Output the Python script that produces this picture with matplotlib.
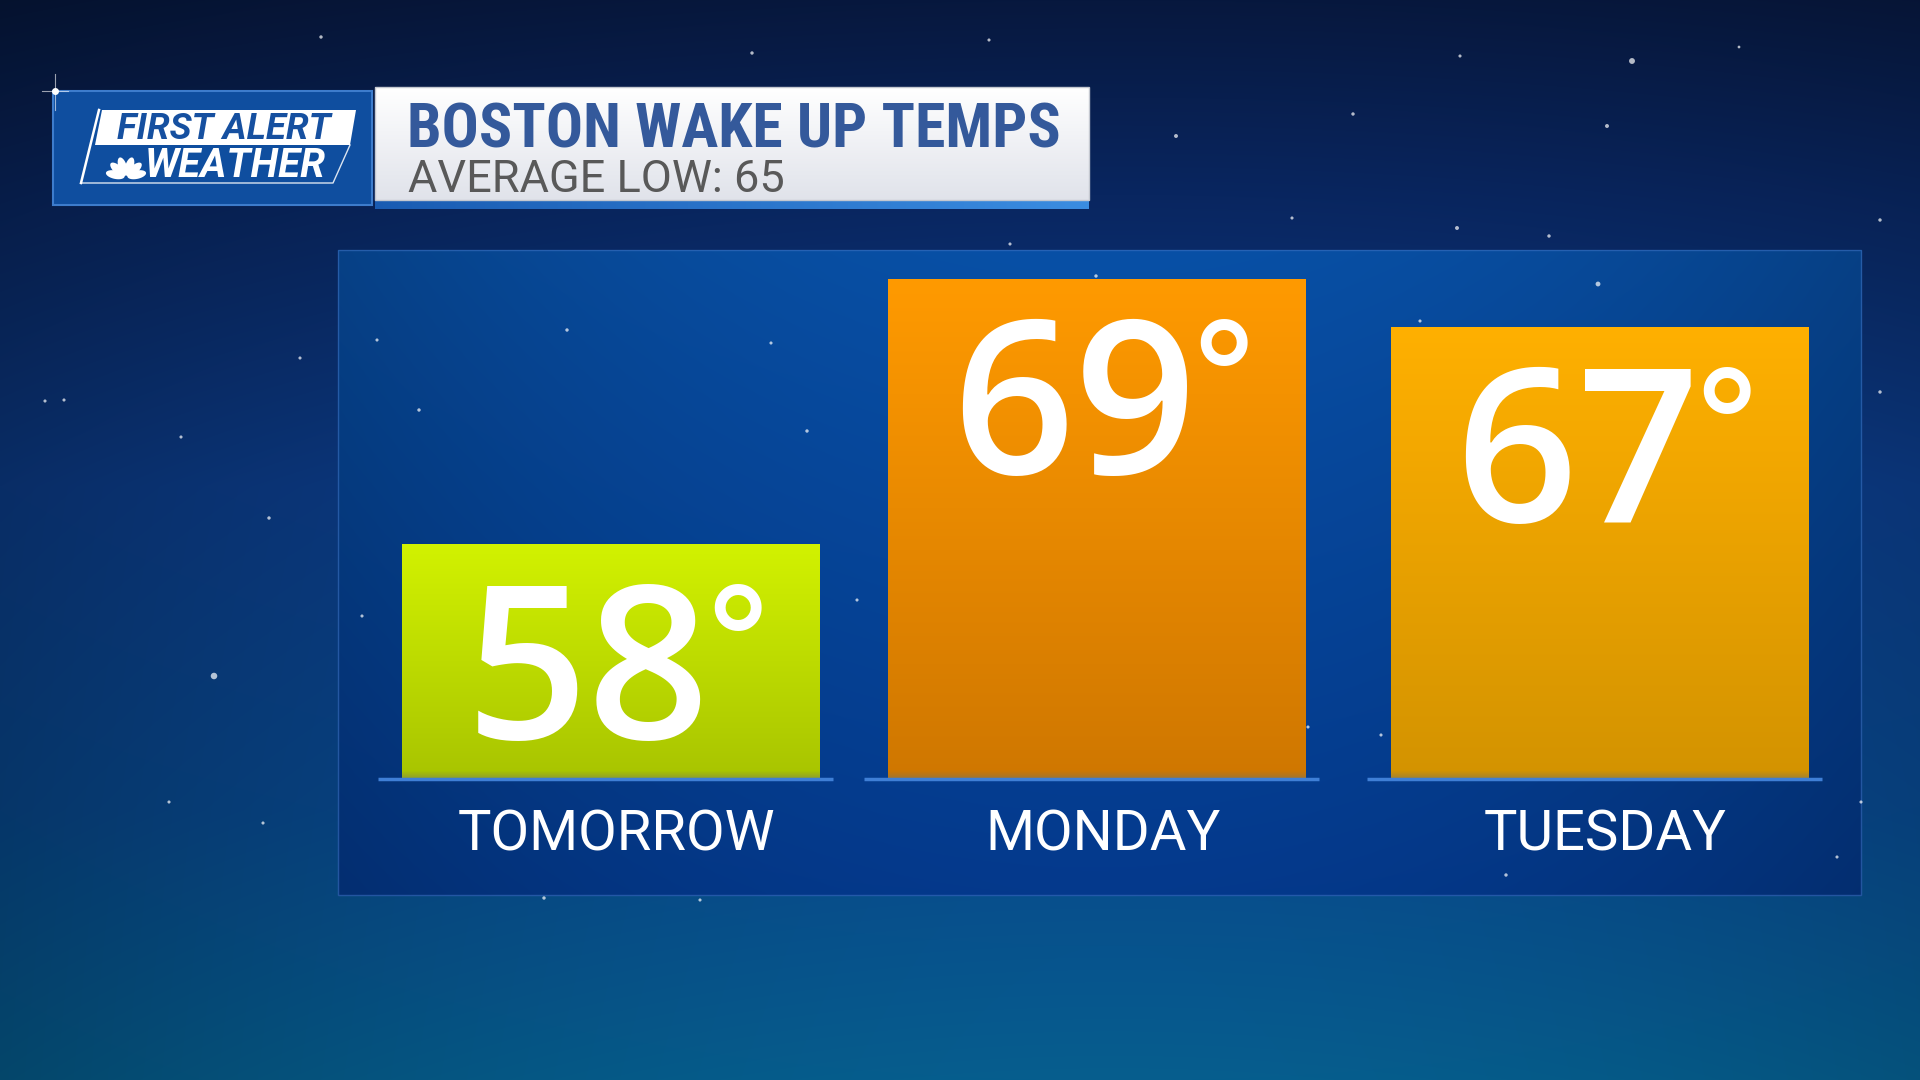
import numpy as np
import matplotlib
matplotlib.use("Agg")
import matplotlib.pyplot as plt
from matplotlib import font_manager as fm
from matplotlib.patches import Rectangle, Polygon

# ---------------- data ----------------
days = ["TOMORROW", "MONDAY", "TUESDAY"]
temps = [58, 69, 67]
title = "BOSTON WAKE UP TEMPS"
subtitle = "AVERAGE LOW: 65"
logo_top = "FIRST ALERT"
logo_bottom = "WEATHER"

# ---------------- styles ----------------
bar_top_colors = ["#d2f200", "#ff9a00", "#ffb000"]
bar_bottom_colors = ["#a8c400", "#cf7700", "#d39300"]

names = {f.name for f in fm.fontManager.ttflist}
def pick(*cands):
    for c in cands:
        if c in names:
            return c
    return "DejaVu Sans"
COND = pick("Roboto Condensed", "Liberation Sans Narrow", "DejaVu Sans")
REG = pick("Roboto", "Liberation Sans", "DejaVu Sans")
NUM = pick("Open Sans", "Lato", "DejaVu Sans")

W, H = 1920, 1080
fig = plt.figure(figsize=(19.2, 10.8), dpi=100)

# ---------------- background ----------------
bg = fig.add_axes([0, 0, 1, 1], zorder=0)
bg.set_xlim(0, W)
bg.set_ylim(H, 0)
bg.axis("off")

yy, xx = np.mgrid[0:H, 0:W].astype(float)
ty = yy / H
tx = xx / W
stops_t = np.array([0.0, 0.18, 0.45, 0.75, 1.0])
stops_c = np.array([[7, 24, 62], [9, 38, 96], [12, 60, 136], [8, 72, 140], [6, 94, 142]], float)
img = np.zeros((H, W, 3))
for k in range(3):
    img[..., k] = np.interp(ty, stops_t, stops_c[:, k])
vign = 1 - 0.25 * (np.abs(tx - 0.58) / 0.58) ** 2
img *= vign[..., None]
# panel tint
px0, px1, py0, py1 = 338, 1861, 250, 895
inside = (xx >= px0) & (xx <= px1) & (yy >= py0) & (yy <= py1)
pt = (yy - py0) / (py1 - py0)
top_c = np.array([8, 80, 166], float)
bot_c = np.array([4, 57, 140], float)
pc = top_c[None, None, :] * (1 - pt[..., None]) + bot_c[None, None, :] * pt[..., None]
hx = 1 - 0.22 * (np.abs(tx - 0.57) / 0.42) ** 2
pc *= np.clip(hx, 0.7, 1)[..., None]
img = np.where(inside[..., None], pc, img)
bg.imshow(np.clip(img / 255, 0, 1), extent=(0, W, H, 0), interpolation="bilinear", aspect="auto", zorder=0)
bg.add_patch(Rectangle((px0, py0), px1 - px0, py1 - py0, fill=False, edgecolor="#3a70c0",
                       alpha=0.6, lw=1.0, zorder=1))

# stars (decoration)
star_x = [321, 752, 989, 1460, 1739, 1632, 1607, 1353, 1176, 1549, 1457, 1420, 1880, 1880, 1861,
          1598, 1096, 419, 807, 1292, 181, 45, 64, 269, 214, 169, 263, 377, 567, 771, 300, 1837,
          1506, 544, 362, 857, 1308, 1381, 1010, 700]
star_y = [37, 53, 40, 56, 47, 61, 126, 114, 136, 236, 228, 321, 220, 392, 802, 284, 276, 410, 431,
          218, 437, 401, 400, 518, 676, 802, 823, 340, 330, 343, 358, 857, 875, 898, 616, 600, 727,
          735, 244, 900]
star_s = [6, 6, 5, 5, 4, 18, 8, 6, 8, 6, 8, 5, 6, 6, 5, 12, 6, 6, 6, 5, 5, 5, 5, 6, 22, 5, 5, 5,
          6, 5, 5, 5, 6, 6, 5, 5, 5, 5, 5, 5]
bg.scatter(star_x, star_y, s=star_s, c="white", alpha=0.7, edgecolors="none", zorder=1)

# ---------------- logo ----------------
bg.add_patch(Rectangle((53, 91), 319, 114, facecolor="#0f4e9f", edgecolor="#3d7ccc", lw=1.5, zorder=3))
bg.add_patch(Polygon([(102, 110), (356, 110), (350, 145), (95, 145)], closed=True,
                     facecolor="white", edgecolor="none", zorder=4))
bg.plot([99, 81], [110, 183], color="white", lw=1.8, zorder=4)
bg.plot([82, 333, 350], [183, 183, 145], color="white", lw=1.0, alpha=0.85, zorder=4)
bg.text(224, 139, logo_top, ha="center", va="baseline", fontsize=26.5, fontweight="bold",
        fontstyle="italic", family=REG, color="#1650a0", zorder=5)
bg.text(235, 177, logo_bottom, ha="center", va="baseline", fontsize=29, fontweight="bold",
        fontstyle="italic", family=REG, color="white", zorder=5)
# peacock
bx, by = 126, 177
for ang in np.deg2rad([12, 42, 72, 108, 138, 168]):
    cxp = bx + 11 * np.cos(ang)
    cyp = by - 11 * np.sin(ang)
    tt = np.linspace(0, 2 * np.pi, 40)
    ex = 9.5 * np.cos(tt)
    ey = 4.2 * np.sin(tt)
    px = cxp + ex * np.cos(ang) - ey * np.sin(ang)
    py = cyp - (ex * np.sin(ang) + ey * np.cos(ang))
    bg.fill(px, py, color="white", zorder=5, lw=0)
# sparkle
bg.plot([42, 68], [91, 91], color="white", lw=0.8, alpha=0.6, zorder=6)
bg.plot([55, 55], [74, 110], color="white", lw=0.8, alpha=0.6, zorder=6)
bg.scatter([55], [91], s=16, c="white", zorder=6)

# ---------------- title box ----------------
tg = np.linspace(0, 1, 64)[:, None]
tcol = (1 - tg) * np.array([1.0, 1.0, 1.0]) + tg * np.array([0.88, 0.89, 0.92])
bg.imshow(np.repeat(tcol[:, None, :], 2, axis=1), extent=(375, 1089, 200, 87),
          aspect="auto", interpolation="bilinear", zorder=3)
bg.add_patch(Rectangle((375, 87), 714, 113, fill=False, edgecolor="#c4c8d0", lw=1, zorder=4))
ug = np.linspace(0, 1, 64)[None, :]
ucol = (1 - ug)[..., None] * np.array([0.10, 0.36, 0.70]) + ug[..., None] * np.array([0.23, 0.55, 0.88])
bg.imshow(ucol, extent=(375, 1089, 209, 201), aspect="auto", interpolation="bilinear", zorder=3)
bg.text(407, 148, title, ha="left", va="baseline", fontsize=44.5, fontweight="bold",
        family=COND, color="#34599b", zorder=5)
bg.text(408, 192, subtitle, ha="left", va="baseline", fontsize=32.5,
        family=REG, color="#595959", zorder=5)
bg.set_xlim(0, W)
bg.set_ylim(H, 0)

# ---------------- bars ----------------
ax = fig.add_axes([363 / W, (H - 779) / H, (1847 - 363) / W, 529 / H], zorder=2)
ax.patch.set_alpha(0)
ymin, ymax = 48.23, 70.21
ax.set_xlim(-0.5, 2.5)
ax.set_ylim(ymin, ymax)
xs = np.array([0.0, 0.983, 2.0])
bars = ax.bar(xs, np.array(temps) - ymin, bottom=ymin, width=0.843,
              color=bar_top_colors, edgecolor="none", zorder=2)
px_per_unit = 529 / (ymax - ymin)
for bar, c0, c1 in zip(bars, bar_top_colors, bar_bottom_colors):
    x0, w, y0, h = bar.get_x(), bar.get_width(), bar.get_y(), bar.get_height()
    n = 400
    t = np.linspace(0, 1, n)[:, None]
    a0 = np.array(matplotlib.colors.to_rgb(c0))
    a1 = np.array(matplotlib.colors.to_rgb(c1))
    grad = (1 - t) * a0 + t * a1
    band = 8 / (h * px_per_unit)
    s = np.clip((t - (1 - band)) / band, 0, 1)
    shadow = np.array([0.45, 0.45, 0.38])
    grad = grad * (1 - 0.5 * s) + shadow * 0.5 * s
    im = ax.imshow(grad[:, None, :], extent=(x0, x0 + w, y0, y0 + h), origin="upper",
                   aspect="auto", interpolation="bilinear", zorder=3)
    im.set_clip_path(bar)
ax.set_xlim(-0.5, 2.5)
ax.set_ylim(ymin, ymax)

ax.hlines([ymin] * len(days), xs - 0.47, xs + 0.45, colors="#3f7fd6", lw=2.5,
          clip_on=False, zorder=4)

for x, v in zip(xs, temps):
    ax.annotate(f"{v}", xy=(x, v), xytext=(-22, -195), textcoords="offset pixels",
                ha="center", va="baseline", fontsize=154, fontweight="semibold",
                color="white", family=NUM, zorder=5)
    ax.annotate("°", xy=(x, v), xytext=(96, -146), textcoords="offset pixels",
                ha="left", va="baseline", fontsize=105, fontweight="semibold",
                color="white", family=NUM, zorder=5)

ax.set_xticks(xs + 0.012, labels=days)
ax.set_yticks([])
ax.tick_params(axis="x", length=0, pad=21, labelsize=40.5, labelcolor="white")
for lab in ax.get_xticklabels():
    lab.set_family(REG)
for sp in ax.spines.values():
    sp.set_visible(False)

fig.savefig("out.png", dpi=100)
